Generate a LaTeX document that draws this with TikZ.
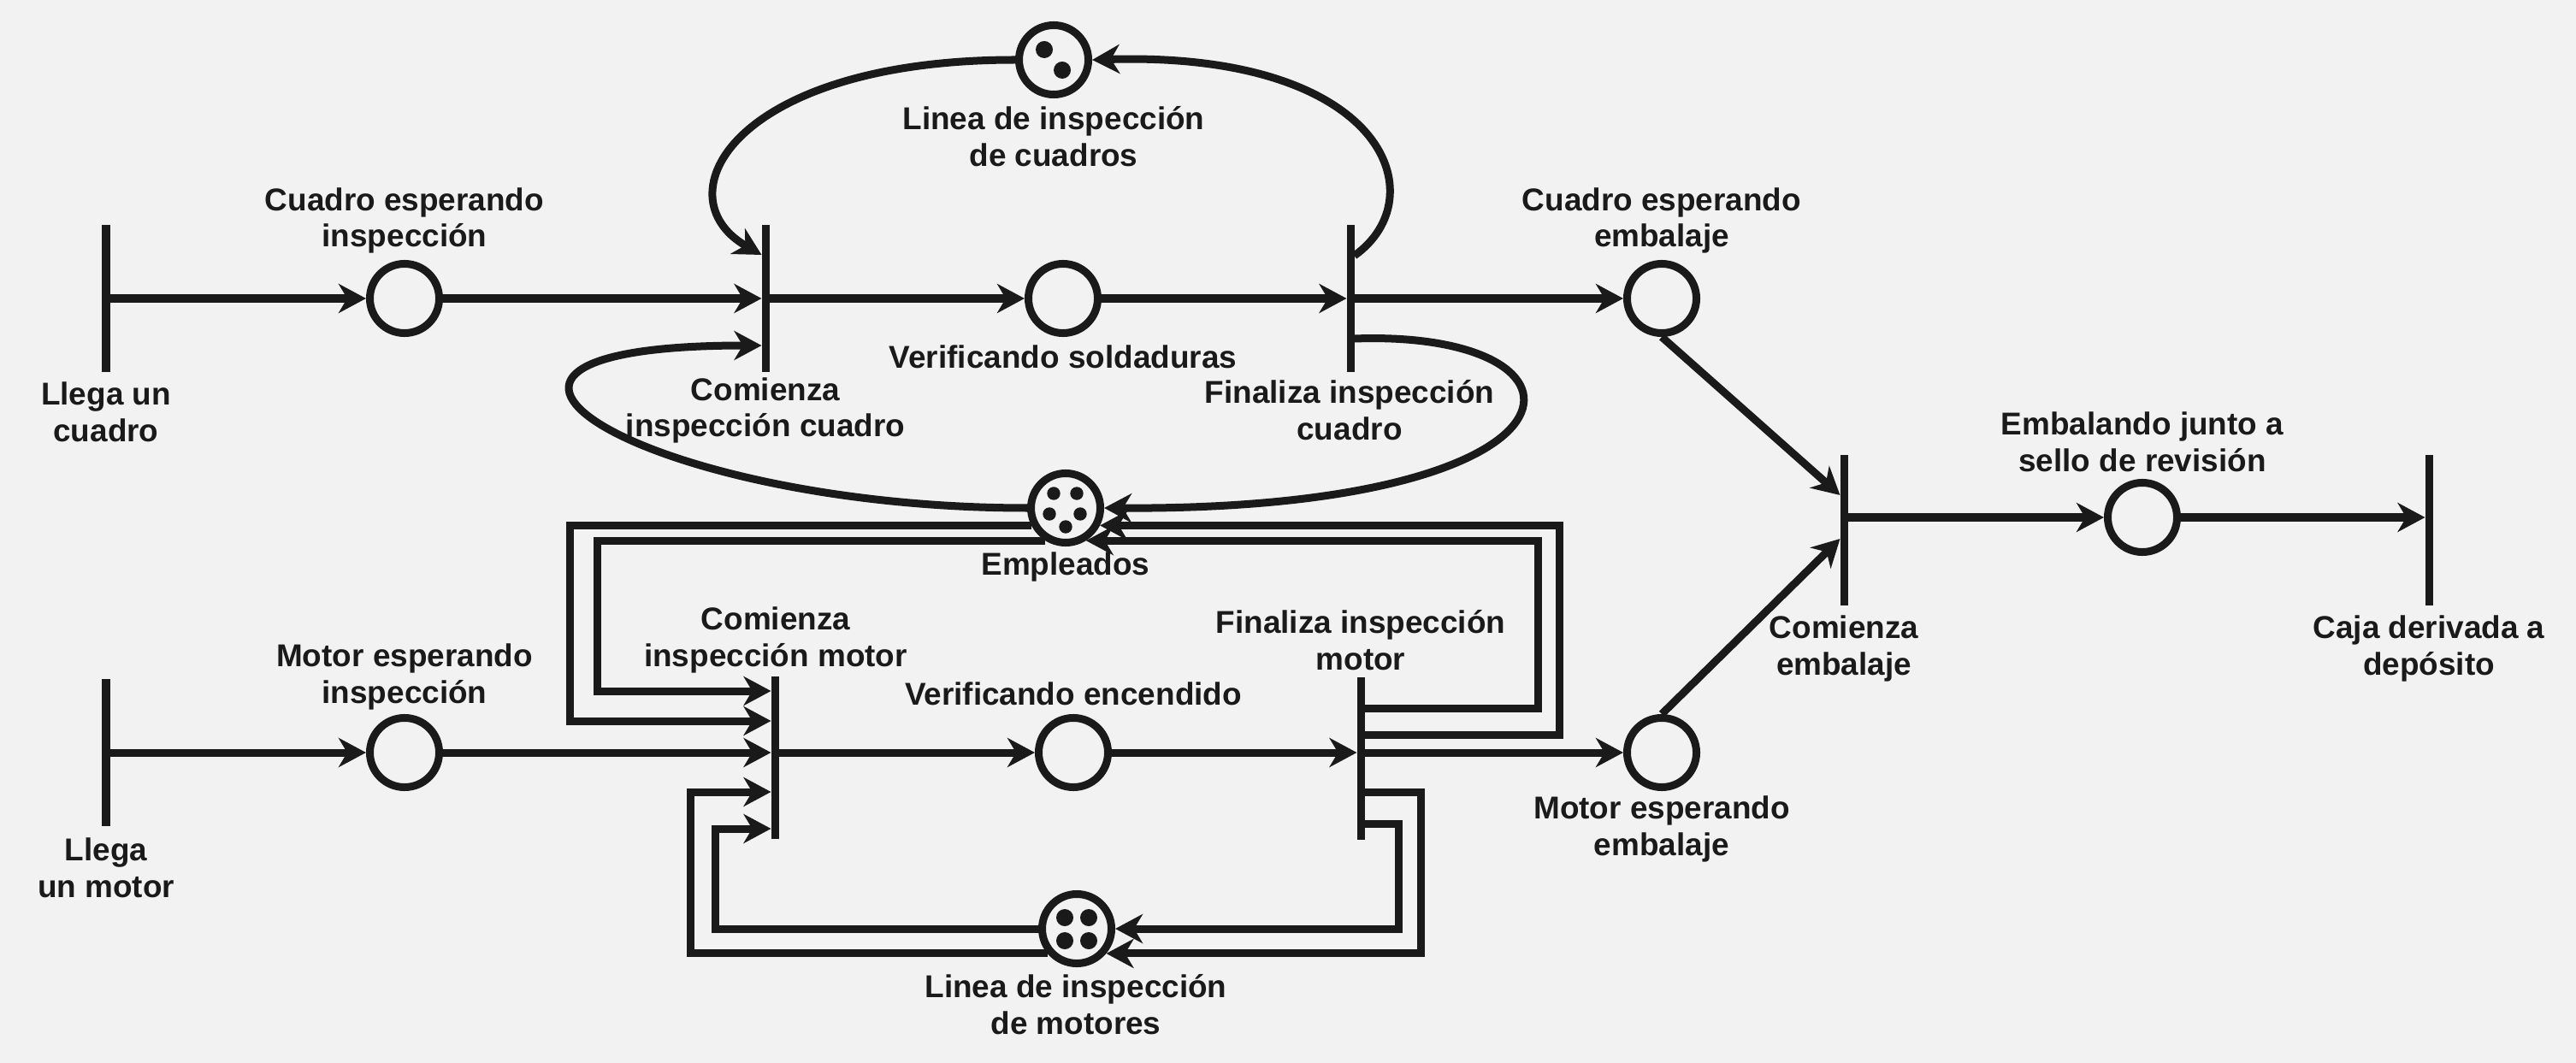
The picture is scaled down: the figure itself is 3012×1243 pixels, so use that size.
\documentclass[tikz,border=0pt]{standalone}
\usepackage{fontspec}
\setmainfont{Liberation Sans}
\usetikzlibrary{arrows.meta}
\definecolor{ink}{HTML}{1A1A1A}
\definecolor{paper}{HTML}{F2F2F2}

\begin{document}
\begin{tikzpicture}[x=0.01cm, y=-0.01cm]
    \tikzset{place/.style={circle, draw=ink, line width=0.09cm, minimum size=0.81cm, inner sep=0pt},
             trans/.style={rectangle, fill=ink, minimum width=0.09cm, minimum height=1.72cm, inner sep=0pt, outer sep=0pt},
             token/.style={fill=ink},
             lbl/.style={text=ink, align=center, font=\fontsize{10.5}{12.2}\selectfont\bfseries},
             arc/.style={draw=ink, line width=0.09cm, -{Stealth[length=0.32cm, width=0.34cm, inset=0.1cm]}}};
%%
\fill [paper] (0,0) rectangle (3012,1243);
\useasboundingbox (0,0) rectangle (3012,1243);

  \node (pci) at (473,349) [place] {};
  \node (vs) at (1243,349) [place] {};
  \node (pce) at (1943,349) [place] {};
  \node (lc) at (1232,70) [place] {};
  \node (emp) at (1246,594) [place] {};
  \node (pmi) at (473,880) [place] {};
  \node (ve) at (1255,880) [place] {};
  \node (pme) at (1943,880) [place] {};
  \node (lm) at (1259,1086) [place] {};
  \node (emb) at (2505,605) [place] {};

  \node (tlc) at (124,349) [trans] {};
  \node (c1) at (895,349) [trans] {};
  \node (f1) at (1579,349) [trans] {};
  \node (tlm) at (124,880) [trans] {};
  \node (c2) at (906,886) [trans, minimum height=1.9cm] {};
  \node (f2) at (1591,887) [trans, minimum height=1.9cm] {};
  \node (ce) at (2156,620) [trans, minimum height=1.75cm] {};
  \node (cd) at (2840,620) [trans, minimum height=1.75cm] {};

  \fill [token] (lc) ++(-11,-12) circle[radius=0.1cm];
  \fill [token] (lc) ++(10,12) circle[radius=0.1cm];
  \fill [token] (emp) ++(-14,-17) circle[radius=0.077cm];
  \fill [token] (emp) ++(13,-17) circle[radius=0.077cm];
  \fill [token] (emp) ++(-19,7) circle[radius=0.077cm];
  \fill [token] (emp) ++(17,7) circle[radius=0.077cm];
  \fill [token] (emp) ++(0,22) circle[radius=0.077cm];
  \fill [token] (lm) ++(-14,-13) circle[radius=0.1cm];
  \fill [token] (lm) ++(14,-13) circle[radius=0.1cm];
  \fill [token] (lm) ++(-14,14) circle[radius=0.1cm];
  \fill [token] (lm) ++(14,14) circle[radius=0.1cm];

  \node (l_tlc) at (124,482) [lbl] {Llega un\\cuadro};
  \node (l_pci) at (473,258) [lbl] {Cuadro esperando\\inspección};
  \node (l_c1) at (895,480) [lbl] {Comienza\\inspección cuadro};
  \node (l_vs) at (1243,417) [lbl] {Verificando soldaduras};
  \node (l_f1) at (1578,480) [lbl] {Finaliza inspección\\cuadro};
  \node (l_lc) at (1232,160) [lbl] {Linea de inspección\\de cuadros};
  \node (l_pce) at (1943,258) [lbl] {Cuadro esperando\\embalaje};
  \node (l_emb) at (2505,517) [lbl] {Embalando junto a\\sello de revisión};
  \node (l_ce) at (2156,758) [lbl] {Comienza\\embalaje};
  \node (l_cd) at (2840,758) [lbl] {Caja derivada a\\depósito};
  \node (l_pme) at (1943,969) [lbl] {Motor esperando\\embalaje};
  \node (l_emp) at (1246,663) [lbl] {Empleados};
  \node (l_pmi) at (473,791) [lbl] {Motor esperando\\inspección};
  \node (l_tlm) at (124,1015) [lbl] {Llega\\un motor};
  \node (l_c2) at (907,748) [lbl] {Comienza\\inspección motor};
  \node (l_ve) at (1255,811) [lbl] {Verificando encendido};
  \node (l_f2) at (1591,749) [lbl] {Finaliza inspección\\motor};
  \node (l_lm) at (1258,1175) [lbl] {Linea de inspección\\de motores};

  \draw [arc] (tlc) -- (pci);
  \draw [arc] (pci) -- (c1);
  \draw [arc] (c1) -- (vs);
  \draw [arc] (vs) -- (f1);
  \draw [arc] (f1) -- (pce);
  \draw [arc] (pce.south) -- (ce.west |- 0,579);
  \draw [arc] (pme.north) -- (ce.west |- 0,630);
  \draw [arc] (ce |- emb) -- (emb);
  \draw [arc] (emb) -- (cd.west |- emb);
  \draw [arc] (tlm) -- (pmi);
  \draw [arc] (pmi) -- (c2.west |- pmi);
  \draw [arc] (c2 |- ve) -- (ve);
  \draw [arc] (ve) -- (f2.west |- ve);
  \draw [arc] (f2 |- pme) -- (pme);

  \draw [arc] (lc.west) .. controls +(-329,0) and +(-119,-68) .. (c1.west |- 0,298);
  \draw [arc] (f1.east |- 0,299) .. controls +(97,-69) and +(341,-10) .. (lc.east);
  \draw [arc] (f1.east |- 0,396) .. controls +(300,-11) and +(590,3) .. (emp.east);
  \draw [arc] (emp.west) .. controls +(-446,0) and +(-452,0) .. (c1.west |- 0,404);

  \draw [arc] (emp.207) -| (666,843) -- (c2.west |- 0,843);
  \draw [arc] (emp.238) -| (698,808) -- (c2.west |- 0,808);
  \draw [arc] (f2.east |- 0,859) -- (1823,859) |- (emp.-27);
  \draw [arc] (f2.east |- 0,828) -- (1798,828) |- (emp.-58);
  \draw [arc] (f2.east |- 0,926) -- (1661,926) |- (lm.-40);
  \draw [arc] (f2.east |- 0,963) -- (1635,963) |- (lm.east);
  \draw [arc] (lm.west) -| (836,969) -- (c2.west |- 0,969);
  \draw [arc] (lm.220) -| (807,926) -- (c2.west |- 0,926);
\end{tikzpicture}
\end{document}
